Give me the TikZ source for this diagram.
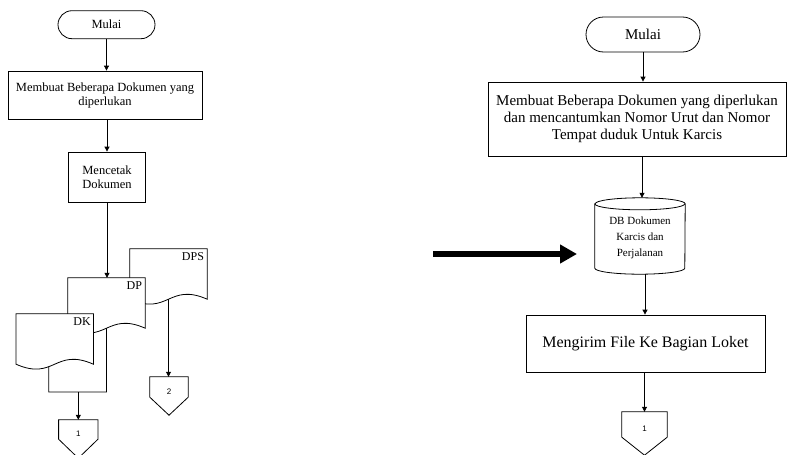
\documentclass[tikz,border=0pt]{standalone}
\usepackage{fontspec}
\setmainfont{Liberation Serif}
\newfontfamily\numfont{Liberation Sans}
\usetikzlibrary{arrows.meta,calc}

\tikzset{
	line/.style={draw, line width=0.8pt},
	arr/.style={line, -{Triangle[length=5pt,width=5pt]}},
	terminal/.style={line, align=center, inner sep=0pt},
	process/.style={line, align=center, inner sep=2pt},
	docbox/.style={minimum width=77pt, minimum height=50pt, inner sep=0pt},
	doclabel/.style={anchor=north east, inner sep=0pt, font=\fontsize{12}{14}\selectfont},
	offbox/.style={inner sep=0pt, text height=14pt, text depth=0pt, font=\numfont\fontsize{8}{9}\selectfont},
}

% document shape with a wavy bottom, marks a point on the wave
\newcommand{\docshape}[3]{%
	\path[line, fill=white] (#1.north west) -- (#1.north east) -- (#1.south east)
		.. controls ($(#1.south)+(0,17)$) and ($(#1.south)+(0,-17)$) .. coordinate[pos=#2] (#3) (#1.south west) -- cycle;}

% off-page connector round a node
\newcommand{\offpage}[2]{%
	\path[line] (#1.north west) -- (#1.north east) -- (#1.south east)
		-- ($(#1.south)+(0,-#2)$) -- (#1.south west) -- cycle;}

\begin{document}
\begin{tikzpicture}[x=1pt,y=1pt]
	\useasboundingbox (0,0) rectangle (787,-455);

	% left flow
	\node[terminal, rounded corners=14pt, minimum width=97pt, minimum height=28pt,
		font=\fontsize{12.5}{14}\selectfont] (mulai1) at (106.5,-24.7) {Mulai};
	\node[process, minimum width=194pt, minimum height=48pt,
		font=\fontsize{12.5}{14}\selectfont] (buat1) at (105,-95)
		{Membuat Beberapa Dokumen yang\\diperlukan};
	\node[process, minimum width=77pt, minimum height=50pt,
		font=\fontsize{12.5}{14}\selectfont] (cetak1) at (107,-177) {Mencetak\\Dokumen};

	\node[docbox] (dps) at (168.5,-274) {};
	\node[docbox] (dp) at (106.5,-303) {};
	\node[docbox] (dk) at (54.7,-339) {};
	\docshape{dps}{0.5}{dpsb}
	\docshape{dp}{0.5}{dpb}
	\docshape{dk}{0.6}{dkb}
	\node[doclabel] (dpsl) at ([xshift=-3pt,yshift=-4pt]dps.north east) {DPS};
	\node[doclabel] (dpl) at ([xshift=-3pt,yshift=-4pt]dp.north east) {DP};
	\node[doclabel] (dkl) at ([xshift=-2.5pt,yshift=-3.5pt]dk.north east) {DK};

	\node[offbox, minimum width=39pt, minimum height=19pt] (off1) at (78.3,-429.5) {1};
	\node[offbox, minimum width=38pt, minimum height=20pt] (off2) at (169,-387) {2};
	\offpage{off1}{19}
	\offpage{off2}{18}

	\coordinate (join) at (106.5,-392);
	\coordinate (split) at (78.3,-392);

	\draw[arr] (mulai1.south) -- (mulai1.south |- buat1.north);
	\draw[arr] (cetak1.north |- buat1.south) -- (cetak1.north);
	\draw[arr] (cetak1.south) -- (cetak1.south |- dp.north);
	\draw[line] (dkb) |- (join) -- (dpb);
	\draw[arr] (split) -- (off1.north);
	\draw[arr] (dpsb) -- (dpsb |- off2.north);

	% big arrow
	\coordinate (bigs) at (433,-254);
	\coordinate (bige) at (577,-254);
	\draw[line width=5.5pt, -{Triangle[length=17pt,width=18pt]}] (bigs) -- (bige);

	% right flow
	\node[terminal, rounded corners=17.5pt, minimum width=114pt, minimum height=35pt,
		font=\fontsize{15}{17}\selectfont] (mulai2) at (643,-34.5) {Mulai};
	\node[process, minimum width=298pt, minimum height=74pt,
		font=\fontsize{15}{17}\selectfont] (buat2) at (637,-119)
		{Membuat Beberapa Dokumen yang diperlukan\\dan mencantumkan Nomor Urut dan Nomor\\Tempat duduk Untuk Karcis};

	\node[minimum width=90pt, minimum height=76pt, inner sep=0pt] (db) at (640,-236) {};
	\path[line, fill=white] ([yshift=-6pt]db.north west) -- ([yshift=6pt]db.south west)
		arc[start angle=180, end angle=360, x radius=45pt, y radius=6pt]
		-- ([yshift=-6pt]db.north east)
		arc[start angle=0, end angle=180, x radius=45pt, y radius=6pt] -- cycle;
	\draw[line] ([yshift=-6pt]db.north west)
		arc[start angle=180, end angle=360, x radius=45pt, y radius=6pt];
	\node[align=center, inner sep=0pt, font=\fontsize{11}{16}\selectfont] (dbl) at ([yshift=-2pt]db.center)
		{DB Dokumen\\Karcis dan\\Perjalanan};

	\node[process, minimum width=239pt, minimum height=57pt,
		font=\fontsize{16}{18}\selectfont] (kirim) at (645.5,-343.5) {Mengirim File Ke Bagian Loket};

	\node[offbox, minimum width=45pt, minimum height=25pt] (off3) at (644.5,-424.5) {1};
	\offpage{off3}{18}

	\draw[arr] (mulai2.south) -- (mulai2.south |- buat2.north);
	\draw[arr] (buat2.south -| 642,0) -- (db.north -| 642,0);
	\draw[arr] (db.south -| 645,0) -- (kirim.north -| 645,0);
	\draw[arr] (kirim.south -| off3.north) -- (off3.north);
\end{tikzpicture}
\end{document}
